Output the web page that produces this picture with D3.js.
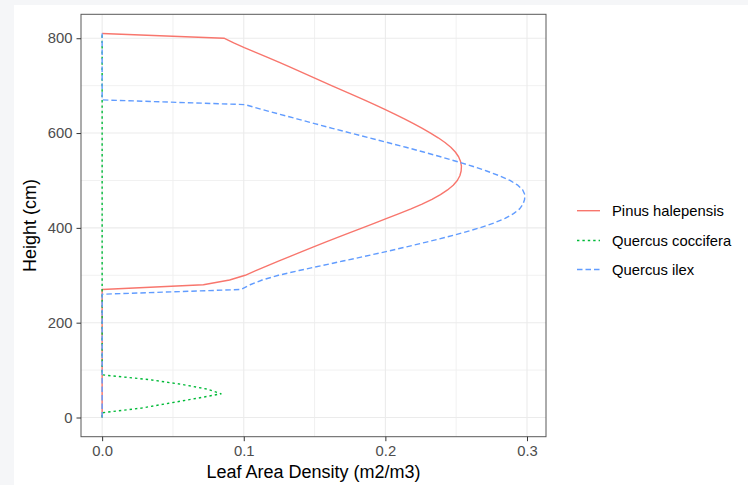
<!DOCTYPE html>
<html>
<head>
<meta charset="utf-8">
<script src="https://cdn.jsdelivr.net/npm/d3@7"></script>
<style>
  html, body { margin: 0; padding: 0; background: #f5f6f8; }
  svg { display: block; }
  text { font-family: "Liberation Sans", Arial, Helvetica, sans-serif; }
</style>
</head>
<body>
<svg id="chart" width="748" height="485"></svg>
<script>
// ---- data ----
const seriesNames = ["Pinus halepensis", "Quercus coccifera", "Quercus ilex"];
const seriesColors = ["#F8766D", "#00BA38", "#619CFF"];

const pinusHeight = [0, 270, 280, 290, 300, 310, 320, 330, 340, 350, 360, 370, 380, 390, 400, 410, 420, 430, 440, 450, 460, 470, 480, 490, 500, 510, 520, 530, 540, 550, 560, 570, 580, 590, 600, 610, 620, 630, 640, 650, 660, 670, 680, 690, 700, 710, 720, 730, 740, 750, 760, 770, 780, 790, 800, 810];
const pinusLAD    = [0, 0, 0.0715, 0.090, 0.101, 0.1085, 0.1165, 0.1245, 0.1328, 0.141, 0.1493, 0.1577, 0.1663, 0.175, 0.1838, 0.1925, 0.201, 0.2097, 0.2181, 0.2259, 0.2329, 0.2389, 0.2439, 0.2479, 0.2508, 0.2526, 0.2535, 0.2537, 0.2531, 0.2517, 0.2494, 0.2462, 0.2421, 0.2373, 0.2319, 0.2261, 0.2199, 0.2134, 0.2066, 0.1996, 0.1924, 0.185, 0.1774, 0.1697, 0.162, 0.1545, 0.147, 0.1395, 0.132, 0.1243, 0.1164, 0.1084, 0.1004, 0.0929, 0.086, 0];

const cocciferaHeight = [0, 10, 20, 30, 40, 50, 60, 70, 80, 90, 810];
const cocciferaLAD    = [0, 0, 0.028, 0.047, 0.066, 0.084, 0.074, 0.056, 0.033, 0, 0];

const ilexHeight = [0, 260, 270, 280, 290, 300, 310, 320, 330, 340, 350, 360, 370, 380, 390, 400, 410, 420, 430, 440, 450, 460, 470, 480, 490, 500, 510, 520, 530, 540, 550, 560, 570, 580, 590, 600, 610, 620, 630, 640, 650, 660, 670, 810];
const ilexLAD    = [0, 0, 0.098, 0.1045, 0.113, 0.1245, 0.139, 0.1545, 0.170, 0.1855, 0.2005, 0.215, 0.229, 0.2425, 0.255, 0.2665, 0.2765, 0.2845, 0.2905, 0.2948, 0.2972, 0.2983, 0.2985, 0.297, 0.2935, 0.288, 0.2805, 0.2715, 0.2615, 0.2505, 0.239, 0.227, 0.2145, 0.2015, 0.1885, 0.1755, 0.1625, 0.150, 0.1375, 0.125, 0.1125, 0.101, 0, 0];

const xTicks = [0, 0.1, 0.2, 0.3];
const xMinor = [0.05, 0.15, 0.25];
const yTicks = [0, 200, 400, 600, 800];
const yMinor = [100, 300, 500, 700];
const xTitle = "Leaf Area Density (m2/m3)";
const yTitle = "Height (cm)";

// ---- layout ----
const svg = d3.select("#chart");
const W = 748, H = 485;
svg.append("rect").attr("x", 14).attr("y", 5).attr("width", W - 14).attr("height", H - 5).attr("fill", "#ffffff");

const panel = {left: 81, right: 546, top: 14.3, bottom: 436.7};
const xMax = 0.2985, yMaxData = 810;
const x = d3.scaleLinear().domain([-0.05 * xMax, xMax * 1.05]).range([panel.left, panel.right]);
const y = d3.scaleLinear().domain([-0.05 * yMaxData, yMaxData * 1.05]).range([panel.bottom, panel.top]);

const g = svg.append("g");

// grid
g.selectAll(".xminor").data(xMinor).enter().append("line")
  .attr("x1", d => x(d)).attr("x2", d => x(d)).attr("y1", panel.top).attr("y2", panel.bottom)
  .attr("stroke", "#EFEFEF").attr("stroke-width", 0.9);
g.selectAll(".yminor").data(yMinor).enter().append("line")
  .attr("y1", d => y(d)).attr("y2", d => y(d)).attr("x1", panel.left).attr("x2", panel.right)
  .attr("stroke", "#EFEFEF").attr("stroke-width", 0.9);
g.selectAll(".xmajor").data(xTicks).enter().append("line")
  .attr("x1", d => x(d)).attr("x2", d => x(d)).attr("y1", panel.top).attr("y2", panel.bottom)
  .attr("stroke", "#EBEBEB").attr("stroke-width", 1.1);
g.selectAll(".ymajor").data(yTicks).enter().append("line")
  .attr("y1", d => y(d)).attr("y2", d => y(d)).attr("x1", panel.left).attr("x2", panel.right)
  .attr("stroke", "#EBEBEB").attr("stroke-width", 1.1);

// series
const series = [
  {name: seriesNames[0], color: seriesColors[0], dash: null, h: pinusHeight, v: pinusLAD},
  {name: seriesNames[1], color: seriesColors[1], dash: "2.4,3", h: cocciferaHeight, v: cocciferaLAD},
  {name: seriesNames[2], color: seriesColors[2], dash: "5.5,3", h: ilexHeight, v: ilexLAD}
];
const line = d3.line().x(d => x(d[1])).y(d => y(d[0])).curve(d3.curveLinear);
series.forEach(s => {
  const pts = s.h.map((h, i) => [h, s.v[i]]);
  g.append("path").datum(pts)
    .attr("d", line)
    .attr("fill", "none")
    .attr("stroke", s.color)
    .attr("stroke-width", 1.4)
    .attr("stroke-dasharray", s.dash)
    .attr("stroke-linejoin", "round");
});

// panel border
g.append("rect").attr("x", panel.left).attr("y", panel.top)
  .attr("width", panel.right - panel.left).attr("height", panel.bottom - panel.top)
  .attr("fill", "none").attr("stroke", "#595959").attr("stroke-width", 1);

// axes
const xAxis = d3.axisBottom(x).tickValues(xTicks).tickFormat(d3.format(".1f")).tickSize(4.5).tickPadding(4);
const yAxis = d3.axisLeft(y).tickValues(yTicks).tickFormat(d3.format("d")).tickSize(4.5).tickPadding(4);
const gx = svg.append("g").attr("transform", `translate(0,${panel.bottom})`).call(xAxis);
const gy = svg.append("g").attr("transform", `translate(${panel.left},0)`).call(yAxis);
[gx, gy].forEach(a => {
  a.select(".domain").remove();
  a.selectAll(".tick line").attr("stroke", "#333333").attr("stroke-width", 1);
  a.selectAll(".tick text").attr("fill", "#4D4D4D").style("font-size", "14.8px");
});
gx.selectAll(".tick text").attr("dy", "0.71em");

// axis titles
svg.append("text").attr("x", (panel.left + panel.right) / 2).attr("y", 478)
  .attr("text-anchor", "middle").attr("fill", "#000").style("font-size", "18px").text(xTitle);
svg.append("text").attr("transform", `translate(36,${(panel.top + panel.bottom) / 2}) rotate(-90)`)
  .attr("text-anchor", "middle").attr("fill", "#000").style("font-size", "18px").text(yTitle);

// legend
const legY = [210.7, 240.5, 269.5];
const leg = svg.append("g");
series.forEach((s, i) => {
  leg.append("line").attr("x1", 577).attr("x2", 600).attr("y1", legY[i]).attr("y2", legY[i])
    .attr("stroke", s.color).attr("stroke-width", 1.4).attr("stroke-dasharray", s.dash);
  leg.append("text").attr("x", 612).attr("y", legY[i]).attr("dy", "0.35em")
    .attr("fill", "#000").style("font-size", "14.8px").text(s.name);
});
</script>
</body>
</html>
